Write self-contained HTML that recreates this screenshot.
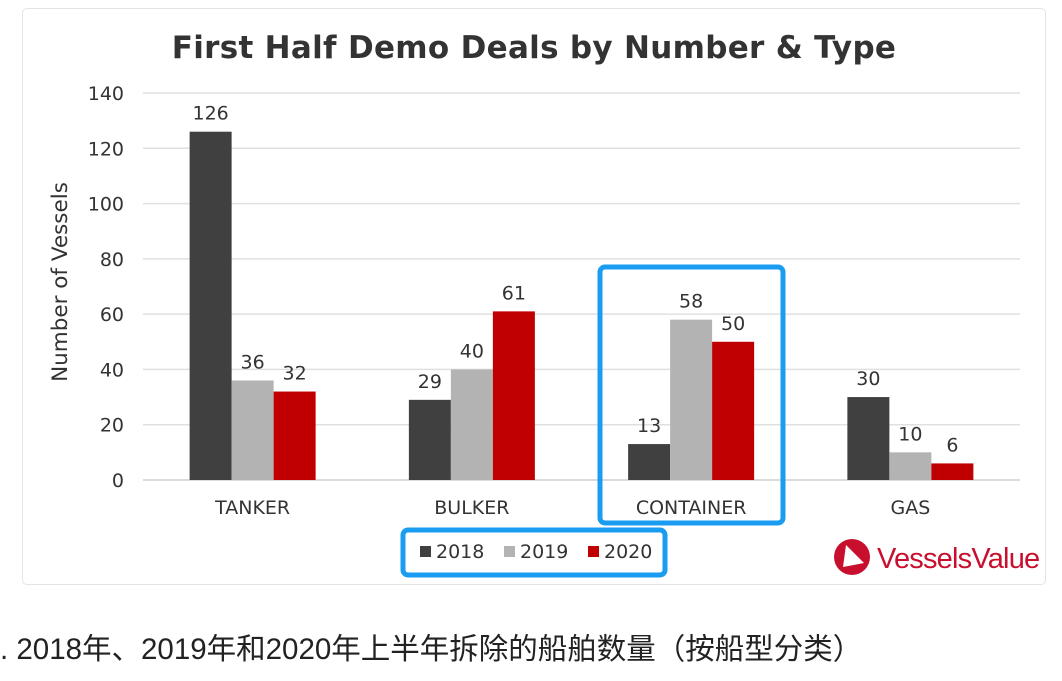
<!DOCTYPE html>
<html><head><meta charset="utf-8"><style>
body{margin:0;width:1062px;height:681px;background:#fff;overflow:hidden;font-family:"DejaVu Sans","Liberation Sans",sans-serif;}
#card{position:absolute;left:22px;top:8px;width:1022px;height:575px;border:1px solid #e4e4e4;border-radius:5px;background:#fff;}
#caption{position:absolute;left:0px;top:626px;font-size:29.5px;color:#222;font-family:"Liberation Sans","Noto Sans CJK SC",sans-serif;white-space:nowrap;}
</style></head><body>
<div id="card"></div>
<svg id="chart" width="1062" height="681" style="position:absolute;left:0;top:0"></svg>
<div id="caption">. 2018年、2019年和2020年上半年拆除的船舶数量（按船型分类）</div>
<script>
const categories=["TANKER","BULKER","CONTAINER","GAS"];
const series=["2018","2019","2020"];
const v2018=[126,29,13,30];
const v2019=[36,40,58,10];
const v2020=[32,61,50,6];
const yTicks=[0,20,40,60,80,100,120,140];
const colors=["#404040","#b3b3b3","#c00000"];
const NS="http://www.w3.org/2000/svg";
const svg=document.getElementById('chart');
const x0=143,x1=1020,y0=480,y1=93,yMax=140;
const bw=(x1-x0)/categories.length, barW=42;
function y(v){return y0-(v/yMax)*(y0-y1);}
function cx(i){return x0+bw*(i+0.5);}
function mk(t,a,txt){const e=document.createElementNS(NS,t);for(const k in a)e.setAttribute(k,a[k]);if(txt!=null)e.textContent=txt;svg.appendChild(e);return e;}
let t=mk('text',{x:534,y:58,'text-anchor':'middle','font-size':31,'font-weight':'bold',fill:'#333','letter-spacing':'0.3'},'First Half Demo Deals by Number & Type');


yTicks.forEach(v=>{
 const g=mk('line',{x1:x0,x2:x1,y1:y(v),y2:y(v),stroke:v===0?'#d0d0d0':'#e0e0e0','stroke-width':1.5});
 
 
 const l=mk('text',{x:124,y:y(v)+7,'text-anchor':'end','font-size':19,fill:'#333'},v);
 
 
});
t=mk('text',{x:0,y:0,transform:'translate(67,282) rotate(-90)','text-anchor':'middle','font-size':21.5,fill:'#333'},'Number of Vessels');


const data=[v2018,v2019,v2020];
categories.forEach((c,i)=>{
 data.forEach((arr,s)=>{
  const bx=cx(i)-1.5*barW+s*barW;
  const r=mk('rect',{x:bx,y:y(arr[i]),width:barW,height:y0-y(arr[i]),fill:colors[s]});
  
  
  const l=mk('text',{x:bx+barW/2,y:y(arr[i])-12,'text-anchor':'middle','font-size':19,fill:'#333'},arr[i]);
  
  
 });
 const cl=mk('text',{x:cx(i),y:514,'text-anchor':'middle','font-size':19,fill:'#333'},c);
 
 
});
let hb=mk('rect',{x:600,y:267,width:183,height:256,rx:5,fill:'none',stroke:'#1a9cf0','stroke-width':5});


hb=mk('rect',{x:403,y:530,width:262,height:45,rx:5,fill:'none',stroke:'#1a9cf0','stroke-width':5});


series.forEach((s,k)=>{
 const lx=420+k*84;
 const r=mk('rect',{x:lx,y:546,width:11,height:11,fill:colors[k]});
 
 
 const l=mk('text',{x:lx+16,y:558,'font-size':19,fill:'#333'},s);
 
 
});
let lg=mk('circle',{cx:852,cy:557,r:18,fill:'#c8102e'});


mk('polygon',{points:'846,545 864,563 843,567',fill:'#fff'});
lg=mk('text',{x:877,y:568,'font-size':29,fill:'#c8102e','font-family':'Liberation Sans, sans-serif','letter-spacing':'-0.8'},'VesselsValue');


</script>
</body></html>
